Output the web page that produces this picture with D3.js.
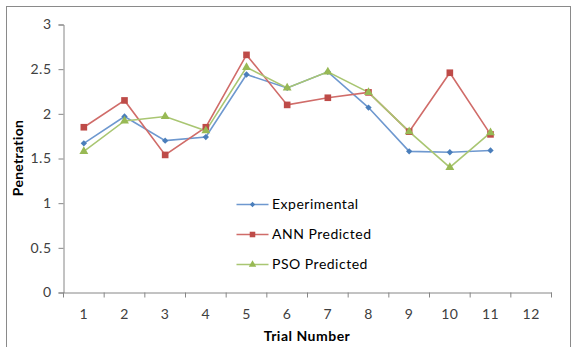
<!DOCTYPE html>
<html>
<head>
<meta charset="utf-8">
<script src="https://cdn.jsdelivr.net/npm/d3@7"></script>
<style>
  body { margin: 0; background: #fff; }
  svg { display: block; font-family: Lato, "Open Sans", sans-serif; }
  .axis path, .axis line { stroke: #868686; }
  .axis text { fill: #404040; font-size: 14px; letter-spacing: 0.5px; font-family: Lato, sans-serif; }
</style>
</head>
<body>
<script>
let w = 572;
let h = 347;

// data
let trials = [1, 2, 3, 4, 5, 6, 7, 8, 9, 10, 11, 12];
let experimental = [1.67, 1.97, 1.70, 1.74, 2.44, 2.29, 2.47, 2.07, 1.58, 1.57, 1.59];
let annPredicted = [1.85, 2.15, 1.54, 1.85, 2.66, 2.10, 2.18, 2.24, 1.80, 2.46, 1.77];
let psoPredicted = [1.58, 1.92, 1.97, 1.81, 2.52, 2.29, 2.47, 2.24, 1.80, 1.40, 1.79];
let seriesNames = ["Experimental", "ANN Predicted", "PSO Predicted"];
let yTicks = [0, 0.5, 1, 1.5, 2, 2.5, 3];

let colors = ["#4a7ebb", "#be4b48", "#98b954"];
let lineColors = ["#6e98cf", "#d06c69", "#a9c672"];
let shapes = [d3.symbolSquare, d3.symbolSquare, d3.symbolTriangle];
let sizes = [20, 44, 34];
let rot = [45, 0, 0];

let series = [experimental, annPredicted, psoPredicted];

let svg = d3.select("body")
            .append("svg")
            .attr("width", w)
            .attr("height", h);

// chart frame
svg.append("rect")
   .attr("x", 6.5)
   .attr("y", 6.5)
   .attr("width", 564)
   .attr("height", 350)
   .attr("fill", "white")
   .attr("stroke", "#8a8a8a");

let xScale = d3.scaleBand()
               .domain(trials)
               .range([63.5, 551.5])
               .padding(0);

let yScale = d3.scaleLinear()
               .domain([0, 3])
               .range([292.5, 24.5]);

let cx = (i) => xScale(trials[i]) + xScale.bandwidth() / 2;

// y axis
let yAxis = d3.axisLeft(yScale)
              .tickValues(yTicks)
              .tickFormat(d3.format(""))
              .tickSizeOuter(0)
              .tickSize(5)
              .tickPadding(7);

svg.append("g")
   .attr("class", "axis")
   .attr("transform", "translate(63.5,0)")
   .call(yAxis);

// x axis - ticks between categories, labels in the middle
let xAxis = d3.axisBottom(xScale)
              .tickSize(0)
              .tickSizeOuter(0)
              .tickPadding(17);

let gx = svg.append("g")
   .attr("class", "axis")
   .attr("transform", "translate(0,292.5)")
   .call(xAxis);

gx.selectAll(".edge")
  .data(trials.concat([13]))
  .enter()
  .append("line")
  .attr("class", "edge")
  .attr("x1", (d) => d == 13 ? 551.5 : xScale(d))
  .attr("x2", (d) => d == 13 ? 551.5 : xScale(d))
  .attr("y1", 0)
  .attr("y2", 5);

// axis titles
svg.append("text")
   .attr("x", 307)
   .attr("y", 341)
   .attr("text-anchor", "middle")
   .style("font-weight", "bold")
   .style("font-size", "14px")
   .style("letter-spacing", "0.5px")
   .attr("fill", "#000")
   .text("Trial Number");

svg.append("text")
   .attr("transform", "translate(23,158) rotate(-90)")
   .attr("text-anchor", "middle")
   .style("font-weight", "bold")
   .style("font-size", "14px")
   .style("letter-spacing", "0.3px")
   .attr("fill", "#000")
   .text("Penetration");

// lines and markers
let line = d3.line()
             .x((d, i) => cx(i))
             .y((d) => yScale(d));

series.forEach((s, k) => {
  svg.append("path")
     .datum(s)
     .attr("fill", "none")
     .attr("stroke", lineColors[k])
     .attr("stroke-width", 1.6)
     .attr("d", line);
});

series.forEach((s, k) => {
  svg.selectAll(".m" + k)
     .data(s)
     .enter()
     .append("path")
     .attr("class", "m" + k)
     .attr("d", d3.symbol().type(shapes[k]).size(sizes[k]))
     .attr("transform", (d, i) => "translate(" + cx(i) + "," + yScale(d) + ") rotate(" + rot[k] + ")")
     .attr("fill", colors[k]);
});

// legend
let legend = svg.selectAll(".legend")
    .data(seriesNames)
    .enter().append("g")
    .attr("class", "legend")
    .attr("transform", (d, i) => "translate(0," + (204.5 + i * 30) + ")");

legend.append("line")
    .attr("x1", 236.5)
    .attr("x2", 268.5)
    .attr("stroke", (d, i) => lineColors[i])
    .attr("stroke-width", 1.6);

legend.append("path")
    .attr("d", (d, i) => d3.symbol().type(shapes[i]).size(sizes[i] * 0.7)())
    .attr("transform", (d, i) => "translate(252.5,0) rotate(" + rot[i] + ")")
    .attr("fill", (d, i) => colors[i]);

legend.append("text")
    .attr("x", 272)
    .attr("y", 0)
    .attr("dy", "0.35em")
    .style("font-size", "14px")
    .style("letter-spacing", "0.5px")
    .attr("fill", "#000")
    .text((d) => d);
</script>
</body>
</html>
